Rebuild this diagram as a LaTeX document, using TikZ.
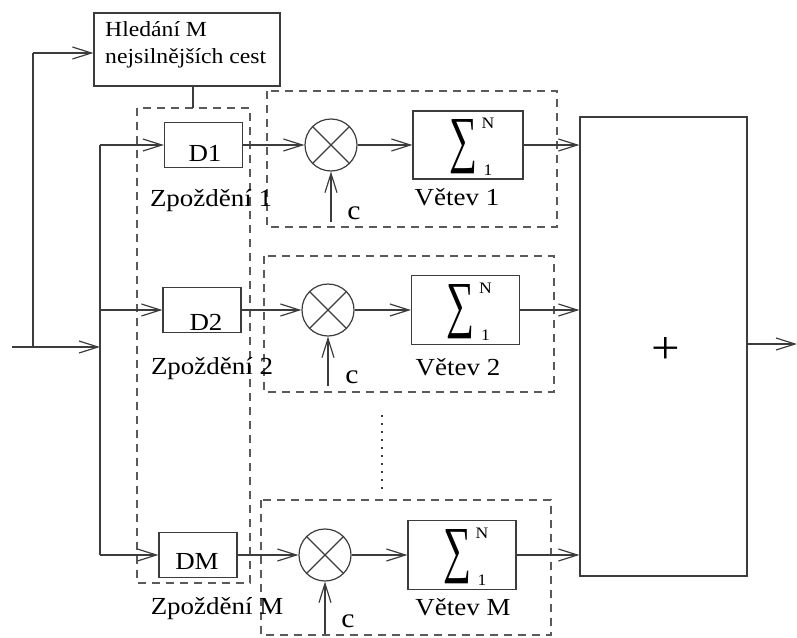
\documentclass[tikz,border=0pt]{standalone}
\usepackage{fontspec}
\setmainfont{Liberation Serif}[FakeStretch=1.1]
\newfontfamily\sigfont{Liberation Serif}
\usepackage{graphicx}
\usetikzlibrary{arrows.meta}
\definecolor{linec}{RGB}{60,60,60}
\definecolor{dashc}{RGB}{90,90,90}
\begin{document}
\begin{tikzpicture}[x=1pt,y=-1pt,
  blk/.style={draw=linec, line width=1.2pt, inner sep=0pt, rectangle},
  dbox/.style={blk, minimum width=78pt, minimum height=45pt},
  sbox/.style={blk, minimum width=108pt, minimum height=69pt},
  mult/.style={draw=linec, line width=1.2pt, circle, inner sep=0pt, minimum size=52pt},
  arr/.style={draw=linec, line width=1.2pt, -{Straight Barb[length=19pt,width=12pt]}},
  ln/.style={draw=linec, line width=1.2pt},
  grp/.style={draw=dashc, line width=1.2pt, dash pattern=on 8pt off 6pt},
  lbl/.style={inner sep=0pt, anchor=base, font=\fontsize{24.5}{28}\selectfont},
  clbl/.style={inner sep=0pt, anchor=base, font=\fontsize{27}{30}\selectfont},
  small/.style={inner sep=0pt, font=\fontsize{16}{16}\selectfont},
  sig/.style={inner sep=0pt}
]
\useasboundingbox (0,0) rectangle (797,637);

% dashed groups
\draw[grp] (137,108) rectangle (250,583);
\draw[grp] (267,91) rectangle (557,227);
\draw[grp] (264,256) rectangle (554,392);
\draw[grp] (261,500) rectangle (551,635);
\draw[draw=linec, line width=1.5pt, dash pattern=on 1.5pt off 6.5pt] (382,415) -- (382,492);

% search box
\node[blk, minimum width=186pt, minimum height=73pt] (search) at (187,49.5) {};
\node[inner sep=0pt, anchor=base west, font=\fontsize{21.5}{26}\selectfont] (st1) at (105,36.7) {Hledání M};
\node[inner sep=0pt, anchor=base west, font=\fontsize{21.5}{26}\selectfont] (st2) at (105,63.3) {nejsilnějších cest};

% delay boxes
\node[dbox] (d1) at (203.5,145) {};
\node[dbox] (d2) at (202,310) {};
\node[dbox] (dm) at (198,555) {};
\node[lbl] (d1t) at (205,161.5) {D1};
\node[lbl] (d2t) at (206,330) {D2};
\node[lbl] (dmt) at (197,569) {DM};
\node[lbl] (z1) at (211,206.5) {Zpoždění 1};
\node[lbl] (z2) at (212,374) {Zpoždění 2};
\node[lbl] (zm) at (217,614) {Zpoždění M};

% multipliers
\node[mult] (m1) at (331,145) {};
\node[mult] (m2) at (328,310) {};
\node[mult] (mm) at (325,555) {};
\foreach \m in {m1,m2,mm}{
  \draw[ln] (\m.north east) -- (\m.south west) (\m.north west) -- (\m.south east);
}
\node[clbl] (c1) at (354,219) {c};
\node[clbl] (c2) at (352,383) {c};
\node[clbl] (cm) at (348,627) {c};
\coordinate (c1in) at (331,222);
\coordinate (c2in) at (328,386);
\coordinate (cmin) at (325,634);
\draw[arr] (c1in) -- (m1.south);
\draw[arr] (c2in) -- (m2.south);
\draw[arr] (cmin) -- (mm.south);

% sum boxes
\node[sbox, minimum width=110pt, minimum height=68pt] (s1) at (468,145) {};
\node[sbox] (s2) at (465.5,310) {};
\node[sbox] (sm) at (462,555) {};
\foreach \s in {s1,s2,sm}{
  \node[sig] (\s sig) at ([xshift=-5pt,yshift=-2pt]\s.center) {\resizebox{28pt}{41pt}{\sigfont ∑}};
  \node[small] (\s N) at ([xshift=20pt,yshift=22pt]\s.center) {N};
  \node[small] (\s one) at ([xshift=20pt,yshift=-25pt]\s.center) {1};
}
\node[lbl] (v1) at (457,205) {Větev 1};
\node[lbl] (v2) at (458,375) {Větev 2};
\node[lbl] (vm) at (463,615) {Větev M};

% adder
\node[blk, minimum width=167pt, minimum height=459pt] (add) at (663.5,346.5) {};
\node[inner sep=0pt, font=\fontsize{46}{46}\selectfont] (plus) at (666,351) {+};

% inputs
\coordinate (in) at (12,347);
\coordinate (busin) at (100,347);
\coordinate (tap) at (33,347);
\coordinate (tapup) at (33,53);
\coordinate (bus1) at (100,145);
\coordinate (bus2) at (100,310);
\coordinate (busm) at (100,555);
\coordinate (out) at (797,344);
\draw[arr] (in) -- (busin);
\draw[ln] (tap) -- (tapup);
\draw[arr] (tapup) -- (tapup -| search.west);
\draw[ln] (bus1) -- (busm);
\draw[arr] (bus1) -- (d1.west);
\draw[arr] (bus2) -- (d2.west);
\draw[arr] (busm) -- (dm.west);
\draw[ln] (search.south -| 193,0) -- (193,108);

% row connections
\draw[arr] (d1.east) -- (m1.west);
\draw[arr] (d2.east) -- (m2.west);
\draw[arr] (dm.east) -- (mm.west);
\draw[arr] (m1.east) -- (s1.west);
\draw[arr] (m2.east) -- (s2.west);
\draw[arr] (mm.east) -- (sm.west);
\draw[arr] (s1.east) -- (s1.east -| add.west);
\draw[arr] (s2.east) -- (s2.east -| add.west);
\draw[arr] (sm.east) -- (sm.east -| add.west);
\draw[arr] (add.east |- out) -- (out);
\end{tikzpicture}
\end{document}
